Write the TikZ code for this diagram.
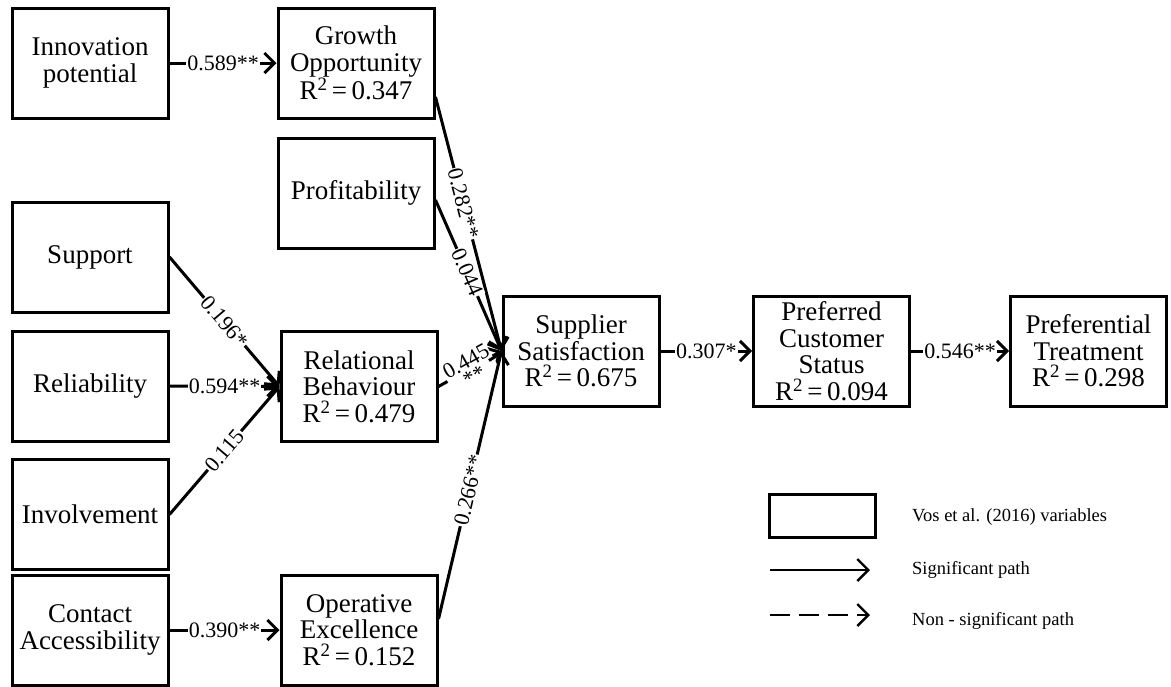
\documentclass[tikz,border=0pt]{standalone}
\usepackage{fontspec}
\setmainfont{Liberation Serif}
\usetikzlibrary{positioning, arrows.meta, calc}

\begin{document}
\begin{tikzpicture}[
    x=1pt, y=-1pt,
    box/.style={draw, line width=3pt, minimum width=156pt, minimum height=110pt,
                inner sep=1pt, align=center, font=\fontsize{27}{26.5}\selectfont},
    arr/.style={-{Straight Barb[length=10pt, width=20pt]}, line width=3pt},
    lbl/.style={font=\fontsize{22}{17}\selectfont, fill=white, inner sep=1pt, align=center},
    legarr/.style={-{Straight Barb[length=11pt, width=22pt]}, line width=2.4pt},
    legtxt/.style={anchor=west, font=\fontsize{18.5}{20}\selectfont, inner sep=0pt},
]
    \useasboundingbox (0,0) rectangle (1171,686);

    % Constructs
    \node[box] (innov)     at (90, 63)     {Innovation\\potential};
    \node[box] (growth)    at (356, 63)    {Growth\\Opportunity\\R\textsuperscript{2}\,=\,0.347};
    \node[box] (profit)    at (356, 193)   {Profitability};
    \node[box] (support)   at (90, 257)    {Support};
    \node[box] (reliab)    at (90, 386)    {Reliability};
    \node[box] (involve)   at (90, 514.5)  {Involvement};
    \node[box] (contact)   at (90, 630)    {Contact\\Accessibility};
    \node[box] (relat)     at (359, 386.5) {Relational\\Behaviour\\R\textsuperscript{2}\,=\,0.479};
    \node[box] (operat)    at (359, 630)   {Operative\\Excellence\\R\textsuperscript{2}\,=\,0.152};
    \node[box] (satisf)    at (581, 351)   {Supplier\\Satisfaction\\R\textsuperscript{2}\,=\,0.675};
    \node[box] (prefcust)  at (831.5, 351) {Preferred\\Customer\\Status\\R\textsuperscript{2}\,=\,0.094};
    \node[box] (preftreat) at (1088.5, 351) {Preferential\\Treatment\\R\textsuperscript{2}\,=\,0.298};

    % Paths
    \draw[arr] (innov)   -- node[lbl] {0.589**} (growth);
    \draw[arr] (support.east) -- node[lbl, sloped] {0.196*} (relat.west);
    \draw[arr] (reliab)  -- node[lbl] {0.594**} (relat);
    \draw[arr] (involve.east) -- node[lbl, sloped] {0.115} (relat.west);
    \draw[arr] (contact) -- node[lbl] {0.390**} (operat);
    \draw[arr] ([yshift=-34pt]growth.east) -- node[lbl, sloped, pos=0.42] {0.282**} (satisf.west);
    \draw[arr] ([yshift=-7pt]profit.east)  -- node[lbl, sloped, pos=0.48] {0.044} (satisf.west);
    \draw[arr] (relat.east) -- node[lbl, sloped] {0.445\\**} (satisf.west);
    \draw[arr] ([yshift=11pt]operat.east)  -- node[lbl, sloped, pos=0.48] {0.266**} (satisf.west);
    \draw[arr] (satisf)   -- node[lbl] {0.307*} (prefcust);
    \draw[arr] (prefcust) -- node[lbl] {0.546**} (preftreat);

    % Legend
    \node[box, minimum width=106pt, minimum height=43pt] (legbox) at (822, 515.5) {};
    \node[legtxt] (legvar) at (912, 517) {Vos et al. (2016) variables};
    \coordinate (sigA) at (770, 570);
    \coordinate (sigB) at (870, 570);
    \draw[legarr] (sigA) -- (sigB);
    \node[legtxt] (legsig) at (912, 570) {Significant path};
    \coordinate (nsA) at (770, 615);
    \coordinate (nsB) at (870, 615);
    \draw[legarr, dash pattern=on 20pt off 9pt] (nsA) -- (nsB);
    \node[legtxt] (legns) at (912, 621) {Non - significant path};
\end{tikzpicture}
\end{document}
